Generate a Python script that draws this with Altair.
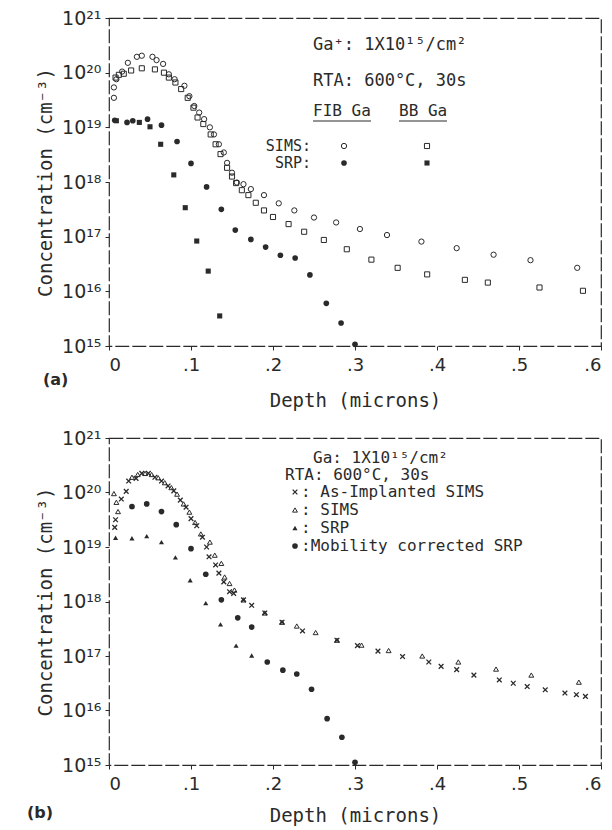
import altair as alt
import pandas as pd

# ---------------- data (x in microns, log10 of concentration in cm^-3) -------------
# panel (a)
fib_sims_x = [0.006, 0.006, 0.009, 0.016, 0.023, 0.034, 0.040, 0.053, 0.058, 0.066,
              0.073, 0.080, 0.092, 0.098, 0.104, 0.110, 0.116, 0.123, 0.128, 0.134,
              0.140, 0.144, 0.150, 0.156, 0.164, 0.173, 0.189, 0.207, 0.226, 0.250,
              0.277, 0.306, 0.339, 0.381, 0.424, 0.469, 0.514, 0.571]
fib_sims_log = [19.54, 19.73, 19.88, 20.02, 20.18, 20.29, 20.31, 20.29, 20.23, 20.16,
                19.97, 19.88, 19.76, 19.57, 19.39, 19.27, 19.15, 19.00, 18.87, 18.69,
                18.54, 18.35, 18.17, 17.99, 17.96, 17.87, 17.76, 17.61, 17.48, 17.35,
                17.26, 17.14, 17.03, 16.91, 16.79, 16.67, 16.57, 16.43]

bb_sims_x = [0.008, 0.012, 0.018, 0.027, 0.040, 0.056, 0.067, 0.073, 0.081, 0.088,
             0.096, 0.103, 0.108, 0.115, 0.124, 0.130, 0.136, 0.144, 0.150, 0.155,
             0.162, 0.170, 0.179, 0.189, 0.200, 0.219, 0.238, 0.262, 0.290, 0.320,
             0.352, 0.388, 0.434, 0.462, 0.525, 0.578]
bb_sims_log = [19.91, 19.96, 19.98, 20.04, 20.08, 20.06, 20.00, 19.91, 19.82, 19.70,
               19.54, 19.36, 19.18, 19.06, 18.87, 18.69, 18.51, 18.26, 18.10, 17.98,
               17.85, 17.76, 17.62, 17.48, 17.36, 17.23, 17.09, 16.94, 16.77, 16.58,
               16.43, 16.31, 16.21, 16.16, 16.07, 16.01]

fib_srp_x = [0.007, 0.022, 0.029, 0.047, 0.064, 0.083, 0.100, 0.119, 0.137, 0.154,
             0.173, 0.191, 0.209, 0.227, 0.245, 0.265, 0.283, 0.300]
fib_srp_log = [19.13, 19.09, 19.12, 19.15, 19.04, 18.74, 18.34, 17.91, 17.50, 17.12,
               16.95, 16.81, 16.66, 16.61, 16.30, 15.78, 15.42, 15.03]

bb_srp_x = [0.009, 0.037, 0.050, 0.063, 0.079, 0.093, 0.107, 0.121, 0.135]
bb_srp_log = [19.12, 19.09, 19.01, 18.69, 18.13, 17.53, 16.92, 16.37, 15.55]

# panel (b)
asimp_x = [0.007, 0.008, 0.015, 0.021, 0.024, 0.033, 0.040, 0.048, 0.056, 0.064,
           0.072, 0.079, 0.087, 0.094, 0.100, 0.107, 0.114, 0.119, 0.122, 0.130,
           0.134, 0.140, 0.147, 0.152, 0.164, 0.174, 0.190, 0.211, 0.236, 0.278,
           0.303, 0.328, 0.358, 0.390, 0.405, 0.424, 0.445, 0.476, 0.493, 0.510,
           0.532, 0.556, 0.570, 0.581]
asimp_log = [19.36, 19.50, 19.88, 20.02, 20.21, 20.26, 20.35, 20.35, 20.28, 20.21,
             20.12, 20.03, 19.86, 19.73, 19.52, 19.39, 19.18, 19.00, 18.82, 18.67,
             18.52, 18.36, 18.18, 18.15, 18.03, 17.93, 17.79, 17.62, 17.46, 17.29,
             17.19, 17.09, 16.99, 16.89, 16.81, 16.75, 16.65, 16.56, 16.50, 16.44,
             16.38, 16.32, 16.29, 16.26]

sims_x = [0.006, 0.009, 0.011, 0.028, 0.035, 0.044, 0.052, 0.060, 0.068, 0.076,
          0.083, 0.091, 0.098, 0.105, 0.112, 0.123, 0.129, 0.137, 0.141, 0.147,
          0.153, 0.164, 0.190, 0.211, 0.229, 0.252, 0.278, 0.308, 0.341, 0.382,
          0.426, 0.472, 0.515, 0.573]
sims_log = [19.98, 19.82, 19.65, 20.28, 20.33, 20.35, 20.33, 20.27, 20.18, 20.09,
            19.97, 19.79, 19.64, 19.45, 19.24, 19.09, 18.85, 18.70, 18.45, 18.33,
            18.21, 18.03, 17.79, 17.62, 17.55, 17.43, 17.29, 17.20, 17.10, 17.00,
            16.89, 16.76, 16.65, 16.52]

srp_x = [0.008, 0.028, 0.046, 0.064, 0.081, 0.099, 0.118, 0.136, 0.155, 0.174]
srp_log = [19.17, 19.16, 19.20, 19.09, 18.81, 18.39, 17.97, 17.58, 17.19, 17.01]

mob_x = [0.028, 0.046, 0.064, 0.082, 0.100, 0.118, 0.137, 0.157, 0.174, 0.193,
         0.212, 0.229, 0.247, 0.266, 0.284, 0.300]
mob_log = [19.74, 19.79, 19.65, 19.41, 18.97, 18.50, 18.03, 17.70, 17.53, 16.89,
           16.74, 16.67, 16.39, 15.85, 15.51, 15.05]

x_ticks = [0, 0.1, 0.2, 0.3, 0.4, 0.5, 0.6]
y_ticks = [1e15, 1e16, 1e17, 1e18, 1e19, 1e20, 1e21]

INK = "#2a2a2a"
MONO = "DejaVu Sans Mono"
SANS = "DejaVu Sans"
W = 492
H_TOP, H_BOT = 328, 327

CROSS = "M-1,-1L1,1M-1,1L1,-1"


def df(xs, logs):
    return pd.DataFrame({"x": xs, "c": [10 ** v for v in logs]})


def enc(title_pad):
    return dict(
        x=alt.X("x:Q",
                scale=alt.Scale(domain=[0, 0.6], nice=False, zero=False),
                axis=alt.Axis(values=x_ticks, grid=False, domain=False,
                              labelExpr="datum.value == 0 ? '0' : '.' + format(datum.value*10, '.0f')",
                              title="Depth (microns)", tickSize=4, tickColor=INK,
                              labelPadding=6, titlePadding=title_pad,
                              labelFont=SANS, labelFontSize=18)),
        y=alt.Y("c:Q",
                scale=alt.Scale(type="log", domain=[1e15, 1e21], nice=False),
                axis=alt.Axis(values=y_ticks, grid=False, domain=False,
                              labelExpr="'10' + ['¹⁵','¹⁶','¹⁷','¹⁸','¹⁹','²⁰','²¹'][round(log(datum.value)/LN10) - 15]",
                              title="Concentration (cm⁻³)", tickSize=4, tickColor=INK,
                              labelPadding=4, titlePadding=6,
                              labelFont=SANS, labelFontSize=19)),
    )


def pts(xs, logs, shape, filled, size, title_pad, sw=1.0):
    return alt.Chart(df(xs, logs)).mark_point(
        shape=shape, filled=filled, size=size, color=INK, strokeWidth=sw, opacity=1
    ).encode(**enc(title_pad))


def txt(x, y, s, size=16, align="left", font=MONO, weight="normal"):
    return alt.Chart(pd.DataFrame({"a": [0]})).mark_text(
        align=align, baseline="middle", font=font, fontSize=size, color=INK,
        fontWeight=weight
    ).encode(x=alt.value(x), y=alt.value(y), text=alt.value(s))


def rule(x1, x2, y):
    return alt.Chart(pd.DataFrame({"a": [0]})).mark_rule(
        color=INK, strokeWidth=1
    ).encode(x=alt.value(x1), x2=alt.value(x2), y=alt.value(y))


def sym(x, y, shape, filled, size, sw=1.0):
    return alt.Chart(pd.DataFrame({"a": [0]})).mark_point(
        shape=shape, filled=filled, size=size, color=INK, strokeWidth=sw, opacity=1
    ).encode(x=alt.value(x), y=alt.value(y))


# panel origins in page pixels: top (108, 17), bottom (108, 437)
TP_TOP, TP_BOT = 17, 13
top = alt.layer(
    pts(fib_sims_x, fib_sims_log, "circle", False, 28, TP_TOP),
    pts(bb_sims_x, bb_sims_log, "square", False, 26, TP_TOP),
    pts(fib_srp_x, fib_srp_log, "circle", True, 32, TP_TOP),
    pts(bb_srp_x, bb_srp_log, "square", True, 26, TP_TOP),
    txt(204, 27, "Ga⁺: 1X10¹⁵/cm²", size=17),
    txt(204, 63, "RTA: 600°C, 30s", size=17),
    txt(204, 93, "FIB Ga"),
    txt(290, 93, "BB Ga"),
    rule(204, 262, 103),
    rule(290, 338, 103),
    txt(202, 128, "SIMS:", size=15, align="right"),
    txt(202, 145, "SRP:", size=15, align="right"),
    sym(235, 128, "circle", False, 28),
    sym(318, 128, "square", False, 26),
    sym(235, 145, "circle", True, 32),
    sym(318, 145, "square", True, 26),
    txt(-66, 362, "(a)", size=16, font=SANS, weight="bold"),
).properties(width=W, height=H_TOP)

bottom = alt.layer(
    pts(asimp_x, asimp_log, CROSS, False, 22, TP_BOT, 1.3),
    pts(sims_x, sims_log, "triangle-up", False, 24, TP_BOT),
    pts(srp_x, srp_log, "triangle-up", True, 26, TP_BOT),
    pts(mob_x, mob_log, "circle", True, 32, TP_BOT),
    txt(204, 20, "Ga: 1X10¹⁵/cm²"),
    txt(176, 37, "RTA: 600°C, 30s"),
    sym(186, 54, CROSS, False, 22, 1.3),
    txt(192, 54, " : As-Implanted SIMS"),
    sym(186, 72, "triangle-up", False, 24),
    txt(192, 72, " : SIMS"),
    sym(186, 90, "triangle-up", True, 26),
    txt(192, 90, " : SRP"),
    sym(186, 108, "circle", True, 32),
    txt(192, 108, " :Mobility corrected SRP"),
    txt(-82, 375, "(b)", size=16, font=SANS, weight="bold"),
).properties(width=W, height=H_BOT)

chart = alt.vconcat(top, bottom, spacing=92, bounds="flush").properties(
    padding={"left": 26, "top": 8, "right": 4, "bottom": 2},
).configure_view(
    stroke=INK, strokeWidth=1.2, strokeDash=[14, 3]
).configure_axis(
    titleFont=MONO, titleFontSize=19,
    labelColor=INK, titleColor=INK, titleFontWeight="normal"
)

chart.save("out.html", embed_options={"renderer": "svg", "actions": False})
